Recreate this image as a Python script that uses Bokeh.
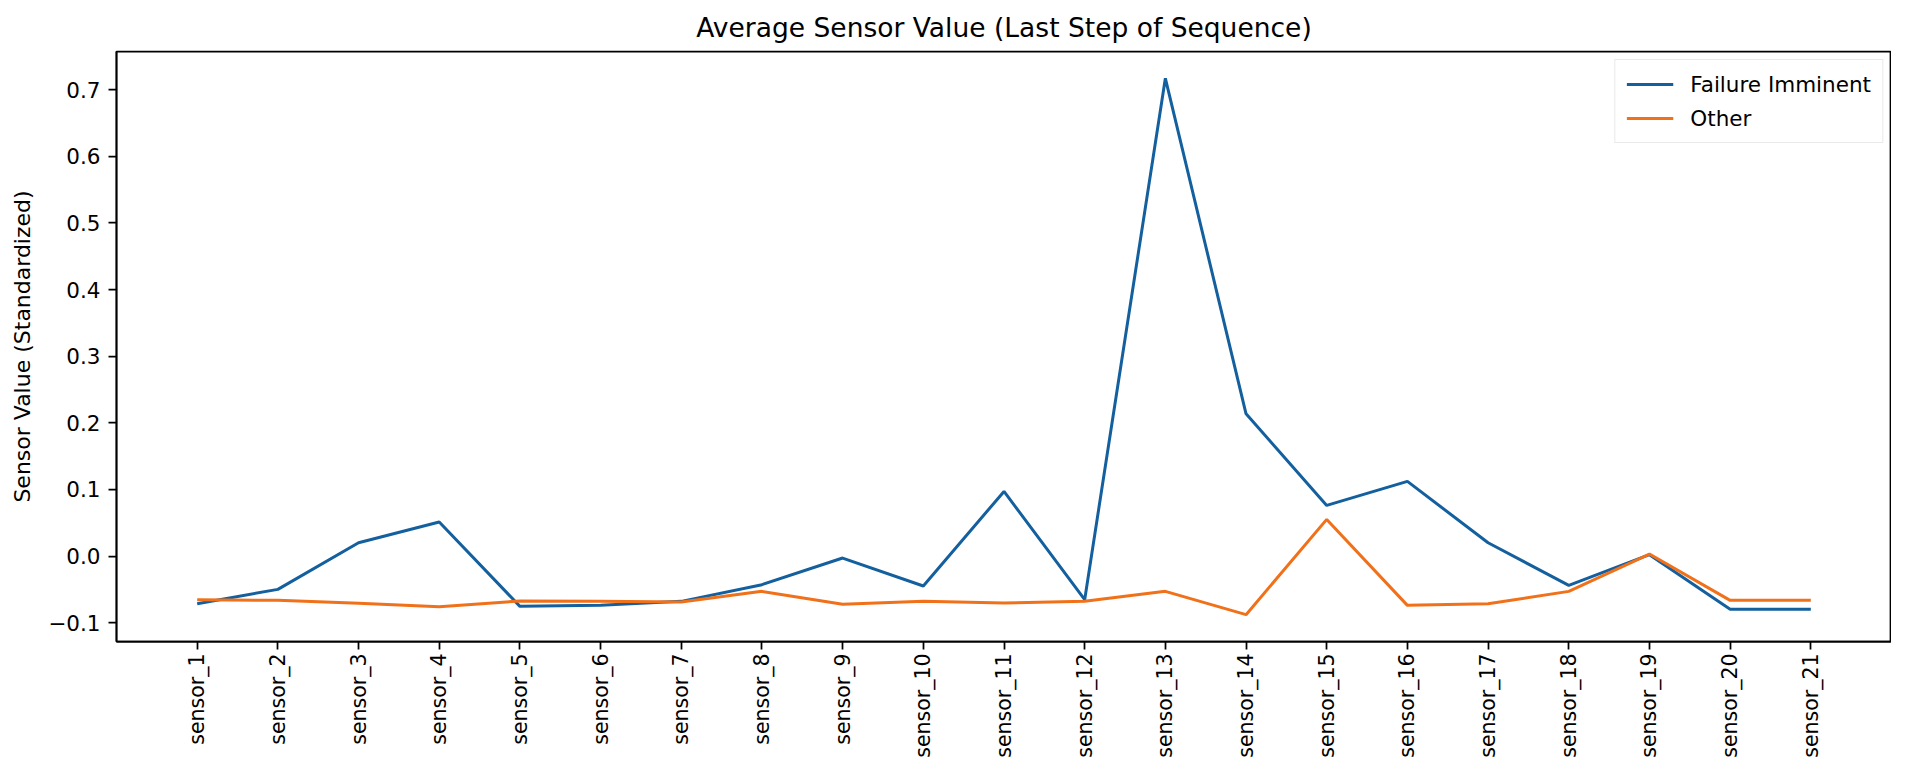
import math
from bokeh.plotting import figure
from bokeh.models import FactorRange, Range1d, FixedTicker, Legend, LegendItem, ColumnDataSource
from bokeh.embed import file_html
from bokeh.resources import INLINE

sensors = [f"sensor_{i}" for i in range(1, 22)]
failure_imminent = [-0.0715, -0.050, 0.020, 0.051, -0.0755, -0.074, -0.068,
                    -0.043, -0.003, -0.045, 0.097, -0.0655, 0.717, 0.2135,
                    0.076, 0.112, 0.020, -0.044, 0.002, -0.080, -0.080]
other = [-0.0655, -0.0665, -0.071, -0.076, -0.0675, -0.068, -0.069,
         -0.053, -0.0725, -0.068, -0.0705, -0.068, -0.053, -0.088,
         0.055, -0.074, -0.0715, -0.053, 0.003, -0.0665, -0.0665]
y_ticks = [-0.1, 0.0, 0.1, 0.2, 0.3, 0.4, 0.5, 0.6, 0.7]
y_tick_labels = ["\u22120.1", "0.0", "0.1", "0.2", "0.3", "0.4", "0.5", "0.6", "0.7"]

FONT = "DejaVu Sans"
BLUE = "#14609f"
ORANGE = "#f0711a"

all_vals = failure_imminent + other
lo, hi = min(all_vals), max(all_vals)
span = hi - lo

p = figure(
    width=1891, height=761,
    x_range=FactorRange(*sensors, range_padding=0.5, range_padding_units="absolute"),
    y_range=Range1d(lo - 0.05 * span, hi + 0.05 * span),
    output_backend="svg", toolbar_location=None,
    title="Average Sensor Value (Last Step of Sequence)",
    min_border_left=116, min_border_right=0, min_border_top=50, min_border_bottom=120,
)

src = ColumnDataSource(dict(x=sensors, a=failure_imminent, b=other))
r1 = p.line("x", "a", source=src, line_color=BLUE, line_width=3)
r2 = p.line("x", "b", source=src, line_color=ORANGE, line_width=3)

legend = Legend(items=[LegendItem(label="Failure Imminent", renderers=[r1]),
                       LegendItem(label="Other", renderers=[r2])],
                location="top_right", margin=8, padding=11, spacing=8,
                glyph_width=47, glyph_height=26, label_height=26, label_standoff=17,
                label_text_font=FONT, label_text_font_size="21.5px",
                label_text_color="black",
                border_line_color="#d4d4d4", border_line_width=1.5,
                background_fill_alpha=0.8)
p.add_layout(legend)

p.title.text_font = FONT
p.title.text_font_size = "26.5px"
p.title.text_font_style = "normal"
p.title.align = "center"
p.title.text_color = "black"
p.title.standoff = 18

p.xgrid.grid_line_color = None
p.ygrid.grid_line_color = None
p.outline_line_color = "black"
p.outline_line_width = 1.75
p.outline_line_alpha = 1.0

for ax in (p.xaxis[0], p.yaxis[0]):
    ax.axis_line_color = "black"
    ax.axis_line_width = 1.75
    ax.major_tick_line_color = "black"
    ax.major_tick_line_width = 1.75
    ax.major_tick_out = 8
    ax.major_tick_in = 0
    ax.minor_tick_line_color = None
    ax.major_label_text_font = FONT
    ax.major_label_text_color = "black"

p.xaxis.major_label_text_font_size = "20.5px"
p.xaxis.major_label_orientation = math.pi / 2
p.xaxis.major_label_standoff = 4
p.xaxis.group_text_font_size = "0px"

p.yaxis.major_label_text_font_size = "21.5px"
p.yaxis.ticker = FixedTicker(ticks=y_ticks)
p.yaxis.major_label_overrides = {t: l for t, l in zip(y_ticks, y_tick_labels)}
p.yaxis.major_label_standoff = 8
p.yaxis.axis_label = "Sensor Value (Standardized)"
p.yaxis.axis_label_text_font = FONT
p.yaxis.axis_label_text_font_size = "22px"
p.yaxis.axis_label_text_font_style = "normal"
p.yaxis.axis_label_text_color = "black"
p.yaxis.axis_label_standoff = 10

open("out.html", "w").write(file_html(p, INLINE))
